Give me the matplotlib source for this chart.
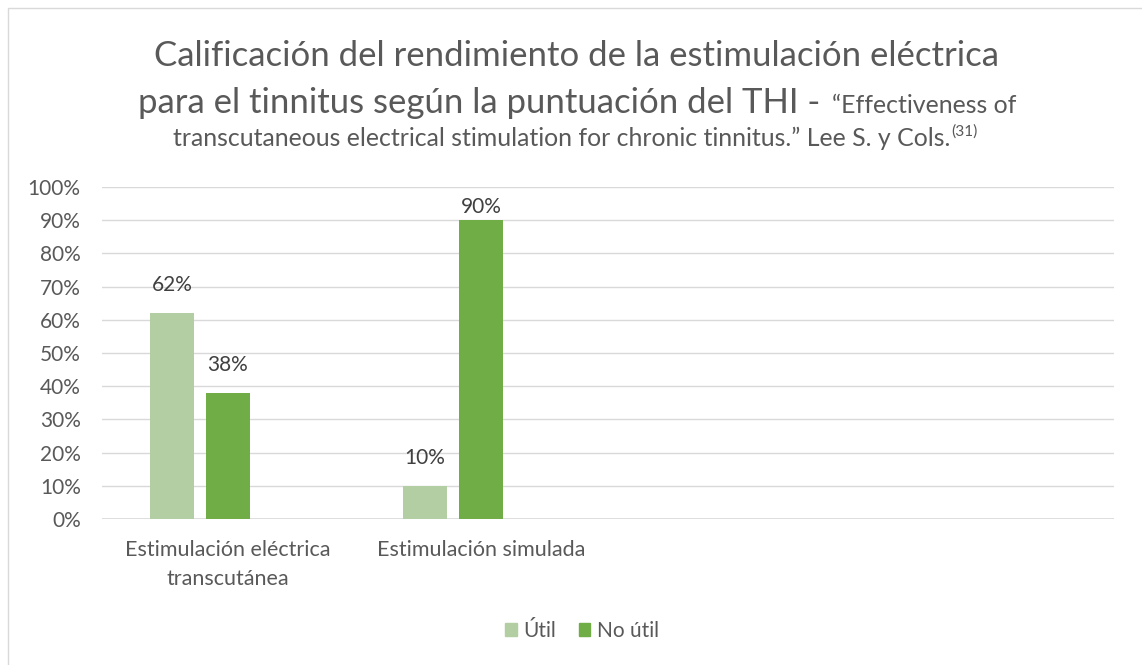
import matplotlib
matplotlib.use('Agg')
import matplotlib.pyplot as plt
from matplotlib.patches import Rectangle
import numpy as np

# ---- data ----
categories = ["Estimulación eléctrica\ntranscutánea", "Estimulación simulada", "", ""]
series_names = ["Útil", "No útil"]
util = [0.62, 0.10]
no_util = [0.38, 0.90]
yticks = [0.0, 0.1, 0.2, 0.3, 0.4, 0.5, 0.6, 0.7, 0.8, 0.9, 1.0]
ytick_labels = ["0%", "10%", "20%", "30%", "40%", "50%", "60%", "70%", "80%", "90%", "100%"]
title_line1 = "Calificación del rendimiento de la estimulación eléctrica"
title_line2_big = "para el tinnitus según la puntuación del THI -"
title_line2_small = "“Effectiveness of"
title_line3 = "transcutaneous electrical stimulation for chronic tinnitus.” Lee S. y Cols."
title_sup = "(31)"

plt.rcParams['font.family'] = ['Lato', 'DejaVu Sans']
W, H = 1142, 665
fig = plt.figure(figsize=(W / 100, H / 100), dpi=100)
renderer = fig.canvas.get_renderer()

TXT = '#595959'
C_UTIL = '#B4CEA3'
C_NO = '#70AD47'
FS = 15

def px(x, y):
    return x / W, 1 - y / H

def width_of(t):
    return t.get_window_extent(renderer).width

def fit(t, target):
    fs = t.get_fontsize()
    t.set_fontsize(fs * target / width_of(t))
    return t

# border
fig.patches.append(Rectangle(px(8, 700), 2, (700 - 8) / H, transform=fig.transFigure,
                             fill=False, edgecolor='#D9D9D9', lw=1))

# title
t1 = fig.text(*px(577, 66), title_line1, ha='center', va='baseline', fontsize=20, color=TXT)
fit(t1, 848)
big_fs = t1.get_fontsize()
t3 = fig.text(*px(560, 146), title_line3, ha='left', va='baseline', fontsize=12, color=TXT)
fit(t3, 776)
small_fs = t3.get_fontsize()
w3 = width_of(t3)
t3.set_x(173 / W)
ts = fig.text((173 + w3 + 1) / W, 1 - 136 / H, title_sup, ha='left', va='baseline',
              fontsize=small_fs * 0.62, color=TXT)

t2a = fig.text(*px(143, 113), title_line2_big, ha='left', va='baseline', fontsize=big_fs, color=TXT)
t2b = fig.text(*px(843, 113), title_line2_small, ha='left', va='baseline', fontsize=small_fs, color=TXT)
wa, wb = width_of(t2a), width_of(t2b)
gap = 12
total = wa + gap + wb
x0 = 577 - total / 2
t2a.set_x(x0 / W)
t2b.set_x((x0 + wa + gap) / W)

# axes
AX_L, AX_R, AX_T, AX_B = 101.5, 1113.5, 187, 519
ax = fig.add_axes([AX_L / W, (H - AX_B) / H, (AX_R - AX_L) / W, (AX_B - AX_T) / H])
n = len(categories)
x = np.arange(n)
bw = 0.175
step = 0.221
for s in ax.spines.values():
    s.set_visible(False)
ax.set_xlim(-0.5, n - 0.5)
ax.set_ylim(0, 1.0)
ax.set_yticks(yticks)
ax.set_yticklabels(ytick_labels)
ax.yaxis.grid(True, color='#D9D9D9', lw=1)
ax.set_axisbelow(True)
ax.axhline(0, color='#D9D9D9', lw=1.2)
ax.tick_params(axis='both', length=0, colors=TXT, labelsize=FS)
ax.tick_params(axis='y', pad=15)
ax.tick_params(axis='x', pad=15)
ax.set_xticks(x)
ax.set_xticklabels(categories, linespacing=1.6, fontsize=FS + 0.5)

xs = np.arange(len(util))
b1 = ax.bar(xs - step, util, width=bw, color=C_UTIL, label=series_names[0], zorder=3)
b2 = ax.bar(xs, no_util, width=bw, color=C_NO, label=series_names[1], zorder=3)
ax_h = AX_B - AX_T
for bars, vals in ((b1, util), (b2, no_util)):
    for r, v in zip(bars, vals):
        ly = min(v + 28 / ax_h, 1 - 20 / ax_h)   # label kept inside the plot area
        ax.text(r.get_x() + r.get_width() / 2, ly, f"{round(v * 100)}%",
                ha='center', va='center', fontsize=FS, color='#404040')

fig.legend(handles=[Rectangle((0, 0), 1, 1, color=C_UTIL), Rectangle((0, 0), 1, 1, color=C_NO)],
           labels=series_names, loc='center', bbox_to_anchor=px(582, 631), ncol=2,
           frameon=False, fontsize=FS, labelcolor=TXT, handlelength=0.55, handleheight=0.55,
           handletextpad=0.3, columnspacing=1.1)

fig.savefig('out.png', dpi=100, facecolor='white')
